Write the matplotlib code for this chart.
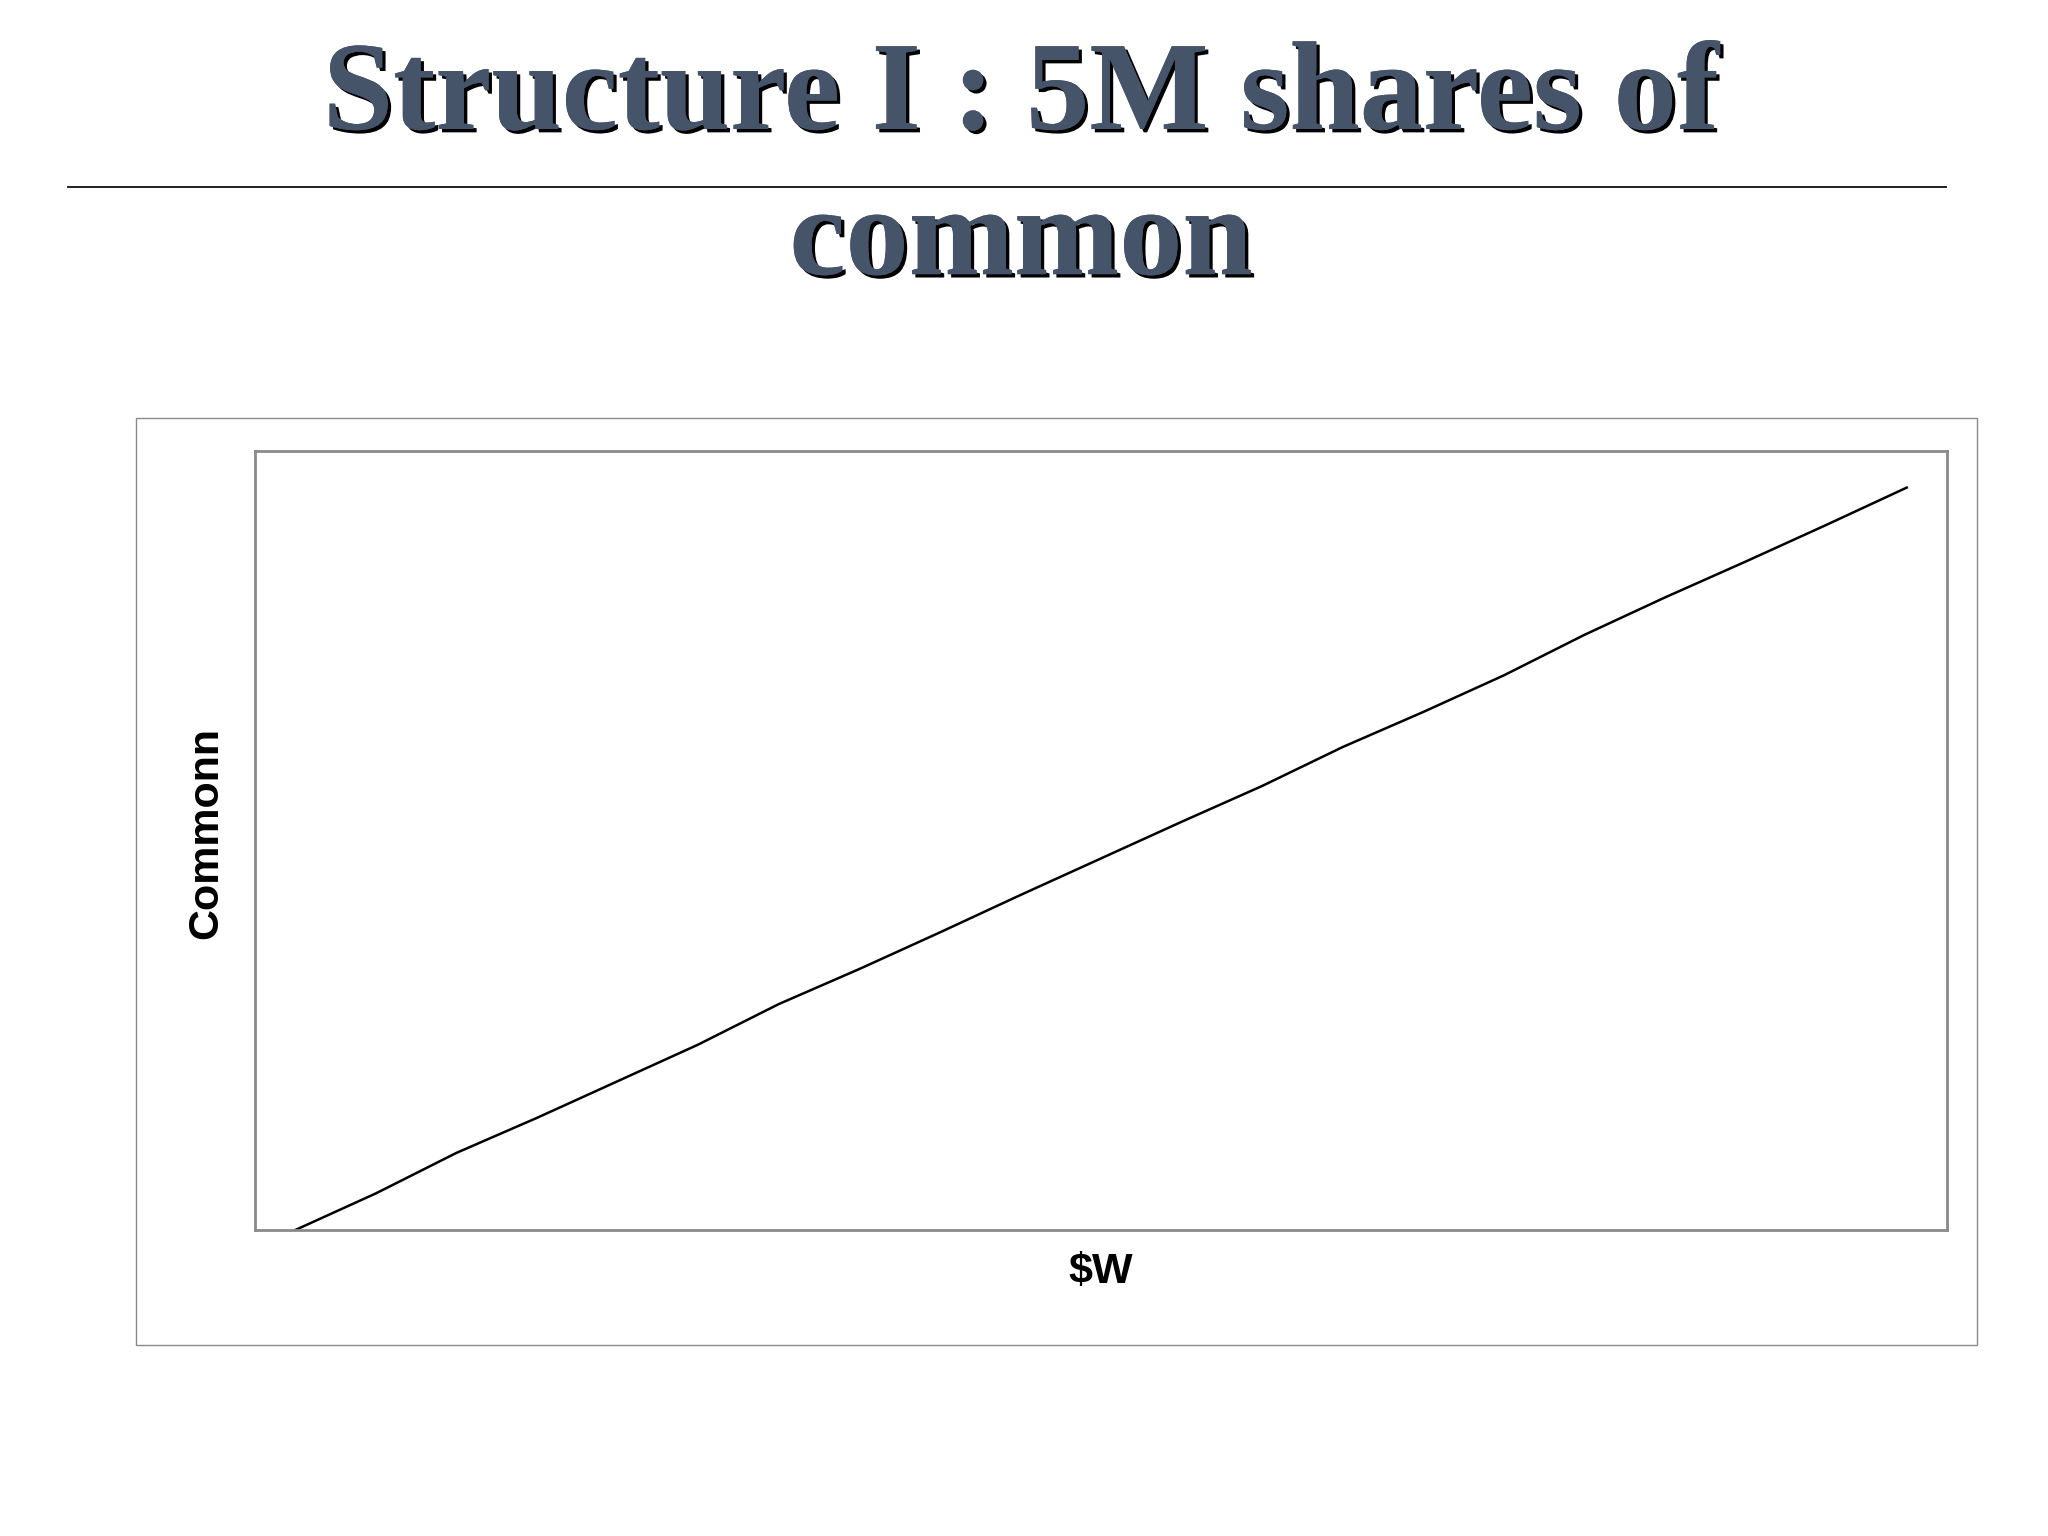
import matplotlib
matplotlib.use('Agg')
import matplotlib.pyplot as plt
import matplotlib.patheffects as pe
from matplotlib.patches import Rectangle
from matplotlib.lines import Line2D

# firm value points along the $W axis (category positions) and value of common
w_points = list(range(21))
common_value = [0.0, 4.7, 9.9, 14.4, 19.1, 23.8, 29.0, 33.5, 38.2, 43.0, 47.7,
                52.4, 57.0, 62.0, 66.5, 71.2, 76.4, 81.2, 85.8, 90.5, 95.3]

title_line1 = 'Structure I : 5M shares of'
title_line2 = 'common'
x_label = '$W'
y_label = 'Commonn'

TITLE_COLOR = '#46546a'
GRID_GREY = '#8a8a8a'

fig = plt.figure(figsize=(20.48, 15.36), dpi=100)
fig.patch.set_facecolor('white')

# slide title with drop shadow
shadow = [pe.withSimplePatchShadow(offset=(2.4, -2.4), shadow_rgbFace='black', alpha=1.0),
          pe.Normal()]
for txt, y in ((title_line1, 0.9160), (title_line2, 0.8215)):
    fig.text(0.4985, y, txt, ha='center', va='baseline', fontsize=91,
             fontweight='bold', family='Liberation Serif', color=TITLE_COLOR,
             path_effects=shadow)

# rule under the first title line
fig.add_artist(Line2D([0.0332, 0.9502], [0.8783, 0.8783], color='#222222',
                      linewidth=1.4, transform=fig.transFigure))

# chart area frame
fig.add_artist(Rectangle((0.0664, 0.1243), 0.8989, 0.6036, transform=fig.transFigure,
                         fill=False, edgecolor=GRID_GREY, linewidth=1.0))

ax = fig.add_axes([0.1245, 0.1992, 0.8262, 0.5072])
ax.plot(w_points, common_value, color='black', linewidth=1.8)
ax.set_xlim(-0.5, 20.5)
ax.set_ylim(0, 100)
ax.set_xticks([])
ax.set_yticks([])
for s in ax.spines.values():
    s.set_color(GRID_GREY)
    s.set_linewidth(2.0)

ax.set_xlabel(x_label, fontsize=31, fontweight='bold', family='Liberation Sans')
ax.xaxis.set_label_coords(0.5, -0.028)
ax.set_ylabel(y_label, fontsize=31, fontweight='bold', family='Liberation Sans')
ax.yaxis.set_label_coords(-0.0171, 0.51)

fig.savefig('out.png', dpi=100, facecolor='white')
